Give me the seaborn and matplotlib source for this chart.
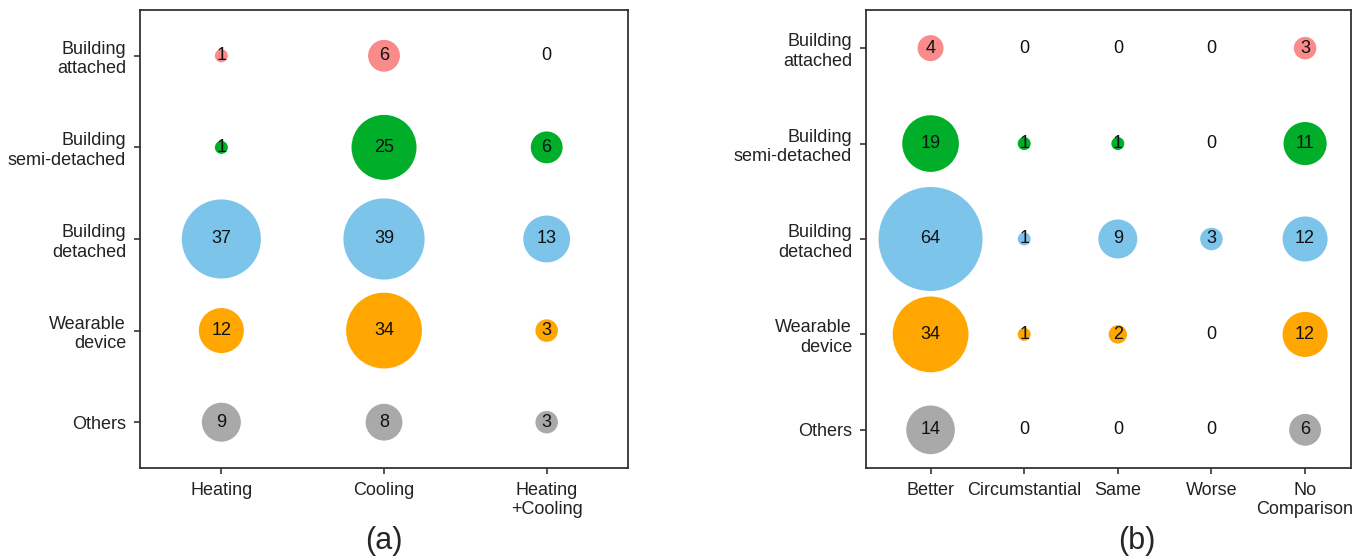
import pandas as pd
import matplotlib.pyplot as plt
import seaborn as sns

# categories (top to bottom)
rows = ["Building\nattached", "Building\nsemi-detached", "Building\ndetached",
        "Wearable\ndevice", "Others"]
row_colors = ["#f98b8b", "#00ae2a", "#7dc4eb", "#ffa600", "#a9a9a9"]

# panel (a): purpose
cols_a = ["Heating", "Cooling", "Heating\n+Cooling"]
attached_a = [1, 6, 0]
semi_a = [1, 25, 6]
detached_a = [37, 39, 13]
wearable_a = [12, 34, 3]
others_a = [9, 8, 3]

# panel (b): comparison result
cols_b = ["Better", "Circumstantial", "Same", "Worse", "No\nComparison"]
attached_b = [4, 0, 0, 0, 3]
semi_b = [19, 1, 1, 0, 11]
detached_b = [64, 1, 9, 3, 12]
wearable_b = [34, 1, 2, 0, 12]
others_b = [14, 0, 0, 0, 6]


def to_long(cols, table):
    recs = []
    for r, vals in zip(rows, table):
        for c, v in zip(cols, vals):
            recs.append({"row": r, "col": c, "n": v})
    return pd.DataFrame(recs)


df_a = to_long(cols_a, [attached_a, semi_a, detached_a, wearable_a, others_a])
df_b = to_long(cols_b, [attached_b, semi_b, detached_b, wearable_b, others_b])

sns.set_style("white")
plt.rcParams["font.family"] = ["Liberation Sans", "DejaVu Sans"]

fig = plt.figure(figsize=(13.62, 5.6), dpi=100)
ax_a = fig.add_axes([0.1028, 0.1643, 0.3583, 0.8179])
ax_b = fig.add_axes([0.6358, 0.1643, 0.3561, 0.8179])

palette = dict(zip(rows, row_colors))
# bubble area proportional to count
vmax = 64
area_per_unit = 87.6


def bubbles(ax, df, cols, xlim, ylim):
    sns.scatterplot(data=df, x="col", y="row", hue="row", palette=palette,
                    size="n", sizes=(0, area_per_unit * vmax), size_norm=(0, vmax),
                    linewidth=0, alpha=1, legend=False, ax=ax)
    for i, r in enumerate(rows):
        for j, c in enumerate(cols):
            v = df[(df.row == r) & (df.col == c)]["n"].iloc[0]
            ax.text(j, i, str(v), ha="center", va="center", fontsize=13,
                    color="#111111")
    ax.set_xlim(*xlim)
    ax.set_ylim(*ylim)
    ax.set_xlabel("")
    ax.set_ylabel("")
    ax.tick_params(axis="both", which="both", length=4, width=1.2,
                   color="#333333", labelsize=13, pad=6, direction="out",
                   bottom=True, left=True, labelcolor="#222222")
    for lab in ax.get_yticklabels():
        lab.set_horizontalalignment("right")
    for sp in ax.spines.values():
        sp.set_color("#333333")
        sp.set_linewidth(1.3)


bubbles(ax_a, df_a, cols_a, (-0.5, 2.5), (4.5, -0.5))
bubbles(ax_b, df_b, cols_b, (-0.69, 4.49), (4.4, -0.4))

fig.text(384 / 1362, 1 - 541 / 560, "(a)", ha="center", va="center", fontsize=22)
fig.text(1137 / 1362, 1 - 541 / 560, "(b)", ha="center", va="center", fontsize=22)

fig.savefig("out.png", dpi=100)
